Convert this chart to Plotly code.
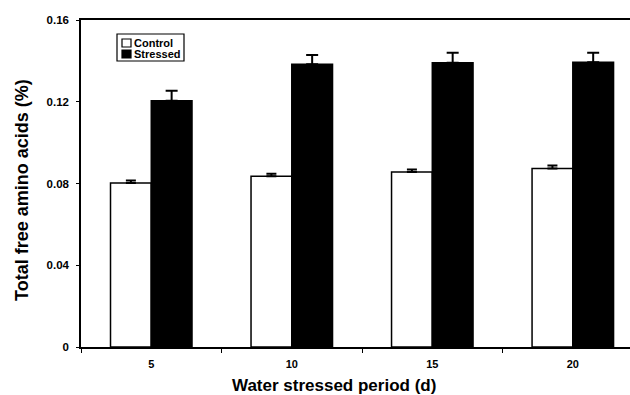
import plotly.graph_objects as go

periods = ["5", "10", "15", "20"]
control = [0.0802, 0.0835, 0.0856, 0.0874]
control_err = [0.0013, 0.0013, 0.0013, 0.0014]
stressed = [0.1205, 0.1383, 0.1391, 0.1393]
stressed_err = [0.0049, 0.0046, 0.0049, 0.0047]
yticks = [0, 0.04, 0.08, 0.12, 0.16]
ytick_labels = ["0", "0.04", "0.08", "0.12", "0.16"]
series_names = ["Control", "Stressed"]
x_title = "Water stressed period (d)"
y_title = "Total free amino acids (%)"

FONT = "Liberation Sans, Arial, sans-serif"

fig = go.Figure()
fig.add_trace(go.Bar(
    x=periods, y=control, name=series_names[0],
    marker=dict(color="white", line=dict(color="black", width=1.5)),
    error_y=dict(type="data", symmetric=False, array=control_err,
                 arrayminus=[0]*len(control_err), color="black",
                 thickness=2, width=5),
))
fig.add_trace(go.Bar(
    x=periods, y=stressed, name=series_names[1],
    marker=dict(color="black", line=dict(color="black", width=1.5)),
    error_y=dict(type="data", symmetric=False, array=stressed_err,
                 arrayminus=[0]*len(stressed_err), color="black",
                 thickness=2, width=6),
))

# plot area in pixels: x 81..630, y 20..347
def px(x):
    return (x - 81) / 549
def py(y):
    return (347 - y) / 327

shapes = [
    dict(type="rect", xref="paper", yref="paper", x0=px(117), x1=px(184),
         y0=py(61), y1=py(34), line=dict(color="black", width=1.2),
         fillcolor="white", layer="above"),
    dict(type="rect", xref="paper", yref="paper", x0=px(122), x1=px(131),
         y0=py(47), y1=py(39), line=dict(color="black", width=1.2),
         fillcolor="white", layer="above"),
    dict(type="rect", xref="paper", yref="paper", x0=px(122), x1=px(131),
         y0=py(58), y1=py(50), line=dict(color="black", width=1.2),
         fillcolor="black", layer="above"),
]
annotations = [
    dict(xref="paper", yref="paper", x=px(132), y=py(43), text=series_names[0],
         showarrow=False, xanchor="left", yanchor="middle",
         font=dict(size=11, family=FONT, weight="bold", color="black")),
    dict(xref="paper", yref="paper", x=px(132), y=py(54), text=series_names[1],
         showarrow=False, xanchor="left", yanchor="middle",
         font=dict(size=11, family=FONT, weight="bold", color="black")),
    dict(xref="paper", yref="paper", x=px(334), y=py(385), text=x_title,
         showarrow=False, xanchor="center", yanchor="middle",
         font=dict(size=17, family=FONT, weight="bold", color="black")),
    dict(xref="paper", yref="paper", x=px(22), y=py(190), text=y_title,
         showarrow=False, xanchor="center", yanchor="middle", textangle=-90,
         font=dict(size=18, family=FONT, weight="bold", color="black")),
]

fig.update_layout(
    width=630, height=395,
    margin=dict(l=81, r=0, t=20, b=48),
    plot_bgcolor="white", paper_bgcolor="white",
    barmode="group", bargap=0.42, bargroupgap=0,
    font=dict(family=FONT, color="black"),
    showlegend=False,
    shapes=shapes, annotations=annotations,
)
fig.update_xaxes(
    range=[-0.5, 3.407], automargin=False,
    showline=True, linecolor="black", linewidth=1.5, mirror=True,
    ticks="outside", tickson="boundaries", ticklen=4, tickcolor="black",
    ticklabelstandoff=6,
    tickfont=dict(size=11, family=FONT, weight="bold"),
    showgrid=False,
)
fig.update_yaxes(
    range=[0, 0.16], tickvals=yticks, ticktext=ytick_labels, automargin=False,
    showline=True, linecolor="black", linewidth=1.5, mirror=False,
    ticks="outside", ticklen=3, tickcolor="black",
    ticklabelstandoff=5,
    tickfont=dict(size=11.5, family=FONT, weight="bold"),
    showgrid=False, zeroline=False,
)

fig.write_html("out.html",
               config={"displayModeBar": False},
               post_script="document.body.style.margin='0px';document.body.style.overflow='hidden';")
